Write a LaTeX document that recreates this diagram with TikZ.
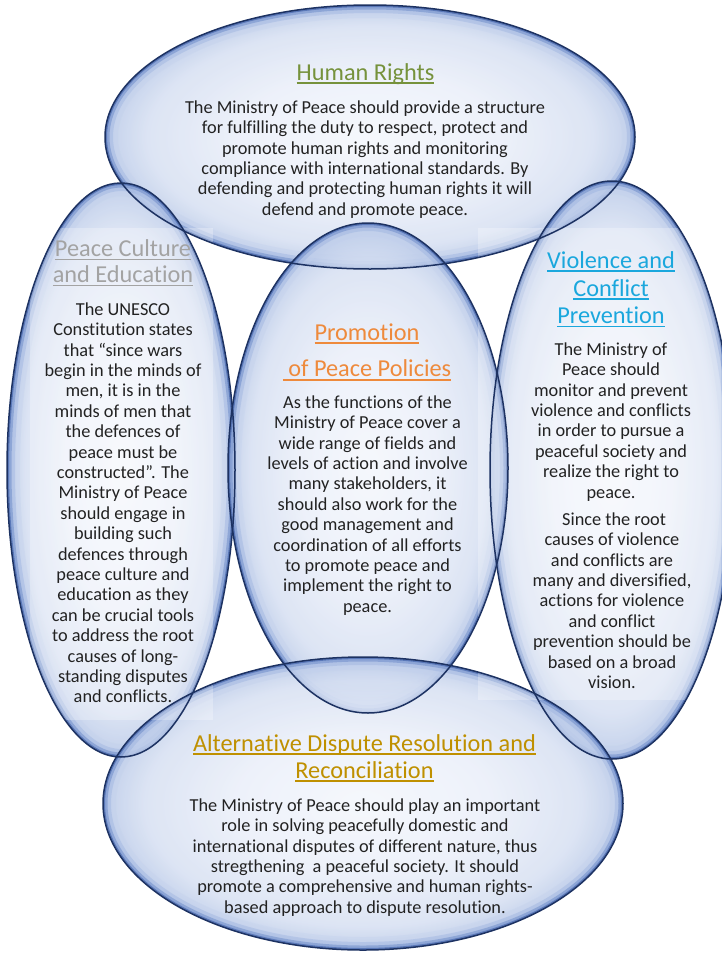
\documentclass[tikz,border=0pt]{standalone}
\usepackage{fontspec}
\setmainfont{Carlito}[Ligatures=NoCommon]

\definecolor{bodytext}{HTML}{222222}
\definecolor{hrgreen}{HTML}{76923C}
\definecolor{culgray}{HTML}{A3A3A3}
\definecolor{viocyan}{HTML}{1AA7DD}
\definecolor{prorange}{HTML}{EE8A3C}
\definecolor{adrgold}{HTML}{BF9000}
\definecolor{fillA}{HTML}{F3F6FC}
\definecolor{fillB}{HTML}{E9EEF9}
\definecolor{fillC}{HTML}{D3DDF1}
\definecolor{fillD}{HTML}{B2C4E6}
\definecolor{rimA}{HTML}{C2D0EC}
\definecolor{rimB}{HTML}{98AFDE}
\definecolor{rimC}{HTML}{6A89C8}
\definecolor{rimD}{HTML}{4565AC}
\definecolor{outline}{HTML}{1D3262}

% pale interior of each bubble; the path edge sits at 25bp
\pgfdeclareradialshading{bubblefill}{\pgfpoint{0bp}{0bp}}{%
  color(0bp)=(fillA); color(12bp)=(fillB); color(21bp)=(fillC);
  color(25bp)=(fillD); color(50bp)=(fillD)}

% underline at a fixed depth below the baseline
\newsavebox\ulinebox
\newcommand\ulx[1]{\sbox\ulinebox{#1}%
  \rlap{\vrule width\wd\ulinebox height -2.4pt depth 3.8pt}\usebox\ulinebox}
\newcommand\firstlinestrut{\rule{0pt}{14pt}}

% one bubble: clipped pale fill plus a soft blue rim inside the edge
\newcommand\drawbubble[4]{%
  \begin{scope}
    \clip (#1,#2) ellipse [x radius=#3pt, y radius=#4pt];
    \shade[shading=bubblefill, fill opacity=0.78]
      (#1,#2) ellipse [x radius=#3pt, y radius=#4pt];
    \foreach \w/\c/\o in {26/rimA/0.35, 16/rimB/0.4, 9/rimC/0.5, 4/rimD/0.7}
      \draw[line width=\w pt, draw=\c, draw opacity=\o]
        (#1,#2) ellipse [x radius=#3pt, y radius=#4pt];
  \end{scope}}
\newcommand\bubbleoutline[4]{%
  \draw[line width=1.5pt, draw=outline]
    (#1,#2) ellipse [x radius=#3pt, y radius=#4pt];}

\begin{document}
\begin{tikzpicture}[x=1pt, y=-1pt,
  head/.style={font=\fontsize{24.3}{26}\selectfont, inner sep=0pt, anchor=base},
  body/.style={font=\fontsize{18.3}{20.4}\selectfont, align=center,
    inner sep=0pt, anchor=north, text=bodytext},
  textpane/.style={fill=white, fill opacity=0.28}]

\useasboundingbox (0,0) rectangle (721,953);
\fill[white] (0,0) rectangle (721,953);

% bubbles: human rights, culture, prevention, policies, dispute resolution
\drawbubble{370}{137}{265}{132}
\drawbubble{121}{470}{114}{287}
\drawbubble{612}{470}{122}{289}
\drawbubble{368}{468}{140}{245}
\drawbubble{363}{803.5}{260}{146.5}

% translucent text panes of the two side bubbles
\fill[textpane] (30,228) rectangle (213,720);
\fill[textpane] (478,228) rectangle (721,700);

\bubbleoutline{370}{137}{265}{132}
\bubbleoutline{121}{470}{114}{287}
\bubbleoutline{612}{470}{122}{289}
\bubbleoutline{368}{468}{140}{245}
\bubbleoutline{363}{803.5}{260}{146.5}

% Human Rights
\node[head, text=hrgreen] (hr-title) at (365.5,80) {\ulx{Human Rights}};
\node[body] (hr-text) at (365,99) {\firstlinestrut The Ministry of Peace should provide a structure\\
for fulfilling the duty to respect, protect and\\
promote human rights and monitoring\\
compliance with international standards. By\\
defending and protecting human rights it will\\
defend and promote peace.};

% Peace Culture and Education
\node[head, text=culgray] (pc-title1) at (123,256.5) {\ulx{Peace Culture}};
\node[head, text=culgray] (pc-title2) at (123,282.5) {\ulx{and Education}};
\node[body] (pc-text) at (123,301) {\firstlinestrut The UNESCO\\
Constitution states\\
that “since wars\\
begin in the minds of\\
men, it is in the\\
minds of men that\\
the defences of\\
peace must be\\
constructed”. The\\
Ministry of Peace\\
should engage in\\
building such\\
defences through\\
peace culture and\\
education as they\\
can be crucial tools\\
to address the root\\
causes of long-\\
standing disputes\\
and conflicts.};

% Violence and Conflict Prevention
\node[head, text=viocyan] (vc-title1) at (611,268) {\ulx{Violence and}};
\node[head, text=viocyan] (vc-title2) at (611,296) {\ulx{Conflict}};
\node[head, text=viocyan] (vc-title3) at (611,323.5) {\ulx{Prevention}};
\node[body] (vc-text1) at (611,341) {\firstlinestrut The Ministry of\\
Peace should\\
monitor and prevent\\
violence and conflicts\\
in order to pursue a\\
peaceful society and\\
realize the right to\\
peace.};
\node[body] (vc-text2) at (612,511) {\firstlinestrut \ Since the root\\
causes of violence\\
and conflicts are\\
many and diversified,\\
actions for violence\\
and conflict\\
prevention should be\\
based on a broad\\
vision.};

% Promotion of Peace Policies
\node[head, text=prorange] (pp-title1) at (367,340) {\ulx{Promotion}};
\node[head, text=prorange] (pp-title2) at (367,376.7) {\ulx{\ of Peace Policies}};
\node[body] (pp-text) at (367.5,394) {\firstlinestrut As the functions of the\\
Ministry of Peace cover a\\
wide range of fields and\\
levels of action and involve\\
many stakeholders, it\\
should also work for the\\
good management and\\
coordination of all efforts\\
to promote peace and\\
implement the right to\\
peace.};

% Alternative Dispute Resolution and Reconciliation
\node[head, text=adrgold] (ad-title1) at (364.5,751) {\ulx{Alternative Dispute Resolution and}};
\node[head, text=adrgold] (ad-title2) at (364.5,778) {\ulx{Reconciliation}};
\node[body] (ad-text) at (365,797) {\firstlinestrut The Ministry of Peace should play an important\\
role in solving peacefully domestic and\\
international disputes of different nature, thus\\
stregthening\ \ a peaceful society. It should\\
promote a comprehensive and human rights-\\
based approach to dispute resolution.};

\end{tikzpicture}
\end{document}
